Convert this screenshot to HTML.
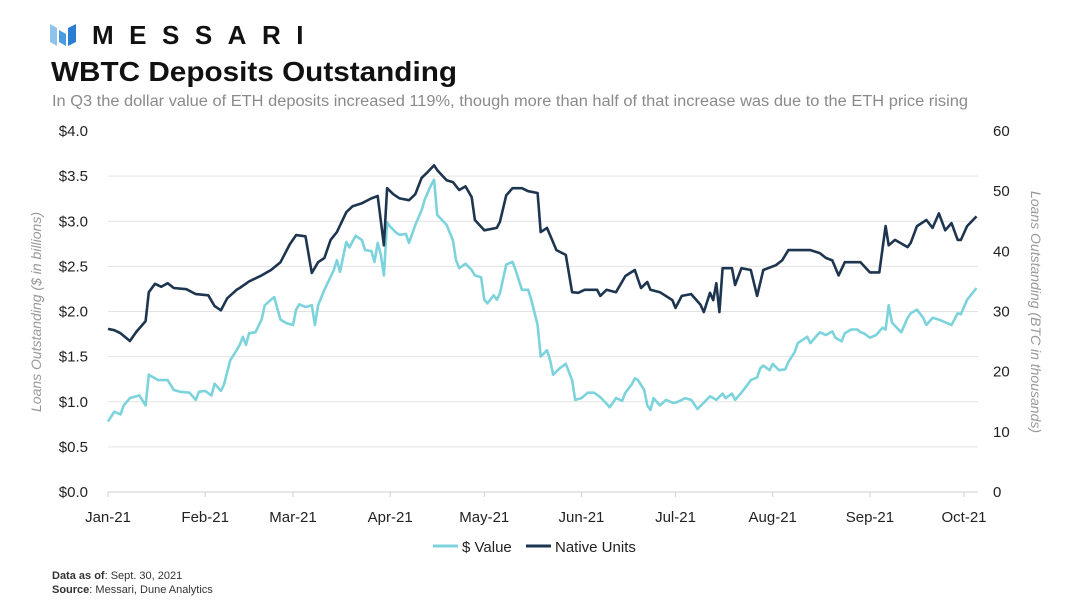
<!DOCTYPE html>
<html><head><meta charset="utf-8"><style>
body{margin:0;background:#fff;width:1080px;height:608px;overflow:hidden;font-family:"Liberation Sans",sans-serif}
svg{display:block}
</style></head><body>
<svg width="1080" height="608" viewBox="0 0 1080 608">
<g>
<polygon points="50,24 57,28 57,46 50,42" fill="#8fc3ea"/>
<polygon points="59,30 66,34 66,46 59,42" fill="#4b9be0"/>
<polygon points="68,28 76,24 76,42 68,46" fill="#2a7fd4"/>
<text x="92" y="44" font-size="26" font-weight="bold" fill="#111" letter-spacing="15.5">MESSARI</text>
</g>
<text x="51" y="81" font-size="28" font-weight="bold" fill="#111" textLength="406" lengthAdjust="spacingAndGlyphs">WBTC Deposits Outstanding</text>
<text x="52" y="106" font-size="15.3" fill="#8a8a8a" textLength="916" lengthAdjust="spacingAndGlyphs">In Q3 the dollar value of ETH deposits increased 119%, though more than half of that increase was due to the ETH price rising</text>
<g id="grid"></g><g id="axes"></g><g id="lines"></g>
<text transform="translate(41,312) rotate(-90)" text-anchor="middle" font-size="14" font-style="italic" fill="#999">Loans Outstanding ($ in billions)</text>
<text transform="translate(1031,312) rotate(90)" text-anchor="middle" font-size="14" font-style="italic" fill="#999">Loans Outstanding (BTC in thousands)</text>
<g>
<line x1="433" y1="546" x2="458" y2="546" stroke="#7dd3dc" stroke-width="3"/>
<text x="462" y="552" font-size="15" fill="#222">$ Value</text>
<line x1="526" y1="546" x2="551" y2="546" stroke="#1e3550" stroke-width="3"/>
<text x="555" y="552" font-size="15" fill="#222">Native Units</text>
</g>
<text x="52" y="579" font-size="11" fill="#333"><tspan font-weight="bold">Data as of</tspan>: Sept. 30, 2021</text>
<text x="52" y="593" font-size="11" fill="#333"><tspan font-weight="bold">Source</tspan>: Messari, Dune Analytics</text>
</svg>
<script>
const monthLabels=["Jan-21","Feb-21","Mar-21","Apr-21","May-21","Jun-21","Jul-21","Aug-21","Sep-21","Oct-21"];
const monthDays=[0,31,59,90,120,151,181,212,243,273];
const leftTicks=[0,0.5,1,1.5,2,2.5,3,3.5,4];
const rightTicks=[0,10,20,30,40,50,60];
const nativeDays=[0,2,4,7,9,12,13,15,17,19,21,25,28,32,34,36,38,41,42,45,49,52,55,58,60,63,65,67,69,71,73,76,78,81,84,86,88,89,91,93,96,98,100,102,104,105,108,110,112,114,116,117,120,124,125,127,129,132,134,137,138,140,141,143,146,148,150,152,156,157,159,162,165,168,170,172,173,176,180,181,183,186,189,190,192,193,194,195,196,199,200,202,205,207,209,213,215,217,220,224,227,229,231,233,235,237,240,243,246,248,249,251,255,256,258,261,263,265,267,269,271,272,274,277];
const nativeValues=[27.1,26.9,26.4,25.1,26.6,28.4,33.2,34.6,34.1,34.7,33.9,33.7,32.9,32.7,30.9,30.2,32.2,33.6,33.9,35.0,36.0,36.9,38.2,41.2,42.7,42.5,36.4,38.2,38.9,41.9,43.2,46.5,47.5,48.0,48.8,49.2,41.0,50.5,49.5,48.8,48.5,49.5,52.2,53.2,54.3,53.5,51.8,51.5,50.2,50.8,49.0,45.2,43.5,43.9,44.9,49.3,50.5,50.5,50.0,49.7,43.2,43.9,42.7,40.2,39.4,33.2,33.1,33.6,33.6,32.6,33.6,33.2,35.9,36.9,33.9,34.9,33.6,33.2,31.9,30.6,32.6,32.9,31.1,29.9,33.1,31.9,34.7,29.9,37.2,37.2,34.4,37.2,36.9,32.6,36.9,37.7,38.5,40.2,40.2,40.2,39.7,38.9,38.5,36.0,38.2,38.2,38.2,36.5,36.5,44.2,41.0,41.9,40.7,41.4,44.2,45.2,43.9,46.3,43.5,44.7,41.9,41.9,44.2,45.8];
const dollarDays=[0,2,4,5,7,10,12,13,16,19,21,23,26,28,29,31,33,34,36,37,39,41,42,43,44,45,47,49,50,52,53,55,57,59,60,61,63,65,66,67,69,72,73,74,76,77,79,81,82,84,85,86,87,88,89,90,92,93,95,96,98,100,101,103,104,105,108,110,111,112,114,116,117,119,120,121,123,124,125,127,129,130,132,134,135,137,138,140,141,142,144,146,148,149,151,153,155,157,159,160,162,164,165,167,168,169,171,172,173,174,175,176,178,180,181,183,184,186,188,190,192,194,196,197,199,200,202,204,205,207,208,209,211,212,214,216,217,219,220,223,224,226,227,229,231,232,234,235,237,239,240,241,243,245,247,248,249,250,251,253,255,256,258,260,261,263,265,267,269,271,272,274,277];
const dollarValues=[0.78,0.89,0.86,0.96,1.04,1.07,0.96,1.30,1.24,1.24,1.13,1.11,1.10,1.02,1.11,1.12,1.07,1.20,1.12,1.19,1.46,1.57,1.63,1.72,1.63,1.76,1.77,1.91,2.07,2.13,2.16,1.91,1.87,1.85,2.02,2.08,2.05,2.07,1.85,2.07,2.24,2.46,2.57,2.44,2.77,2.71,2.84,2.79,2.68,2.67,2.55,2.76,2.63,2.40,2.99,2.94,2.87,2.85,2.86,2.76,2.96,3.12,3.24,3.40,3.46,3.07,2.96,2.79,2.57,2.48,2.53,2.46,2.40,2.38,2.13,2.09,2.18,2.13,2.20,2.52,2.55,2.46,2.24,2.24,2.13,1.85,1.50,1.57,1.46,1.30,1.37,1.42,1.24,1.02,1.04,1.10,1.10,1.05,0.98,0.94,1.04,1.01,1.10,1.19,1.26,1.24,1.13,0.96,0.91,1.04,1.00,0.96,1.02,0.99,0.99,1.02,1.04,1.02,0.92,0.99,1.06,1.02,1.09,1.04,1.09,1.02,1.10,1.19,1.24,1.27,1.37,1.40,1.35,1.42,1.35,1.36,1.44,1.55,1.65,1.72,1.65,1.73,1.77,1.74,1.78,1.71,1.67,1.76,1.80,1.80,1.77,1.76,1.71,1.74,1.82,1.80,2.07,1.88,1.84,1.77,1.93,1.98,2.02,1.93,1.85,1.93,1.91,1.88,1.85,1.98,1.97,2.13,2.26];

const NS="http://www.w3.org/2000/svg";
const X0=108,X1=964,Y0=492,Y1=131;
const xs=d=>X0+(d/273)*(X1-X0);
const yL=v=>Y0-(v/4)*(Y0-Y1);
const yR=v=>Y0-(v/60)*(Y0-Y1);
function mk(tag,attrs,parent,txt){const e=document.createElementNS(NS,tag);for(const k in attrs)e.setAttribute(k,attrs[k]);if(txt!==undefined)e.textContent=txt;parent.appendChild(e);return e;}
const grid=document.getElementById('grid'),axes=document.getElementById('axes'),lines=document.getElementById('lines');
leftTicks.forEach(v=>{
  if(v>0&&v<4){const g=mk('line',{x1:X0,x2:978,y1:yL(v),y2:yL(v),stroke:'#e3e3e3','stroke-width':1},grid);
  
  }
  const t=mk('text',{x:88,y:yL(v)+5,'text-anchor':'end','font-size':15,fill:'#222'},axes,'$'+v.toFixed(1));
  
  
});
rightTicks.forEach(v=>{
  const t=mk('text',{x:993,y:yR(v)+5,'font-size':15,fill:'#222'},axes,String(v));
  
  
});
const base=mk('line',{x1:X0,x2:978,y1:Y0,y2:Y0,stroke:'#cfcfcf','stroke-width':1},axes);


monthDays.forEach((d,i)=>{
  const tk=mk('line',{x1:xs(d),x2:xs(d),y1:Y0,y2:Y0+5,stroke:'#cfcfcf'},axes);
  
  
  const t=mk('text',{x:xs(d),y:522,'text-anchor':'middle','font-size':15,fill:'#222'},axes,monthLabels[i]);
  
  
});
function path(days,vals,yf){return days.map((d,i)=>(i?'L':'M')+xs(d).toFixed(1)+','+yf(vals[i]).toFixed(1)).join('');}
const p1=mk('path',{d:path(dollarDays,dollarValues,yL),fill:'none',stroke:'#7dd3dc','stroke-width':2.6,'stroke-linejoin':'round'},lines);


const p2=mk('path',{d:path(nativeDays,nativeValues,yR),fill:'none',stroke:'#1e3550','stroke-width':2.6,'stroke-linejoin':'round'},lines);


</script>
</body></html>
